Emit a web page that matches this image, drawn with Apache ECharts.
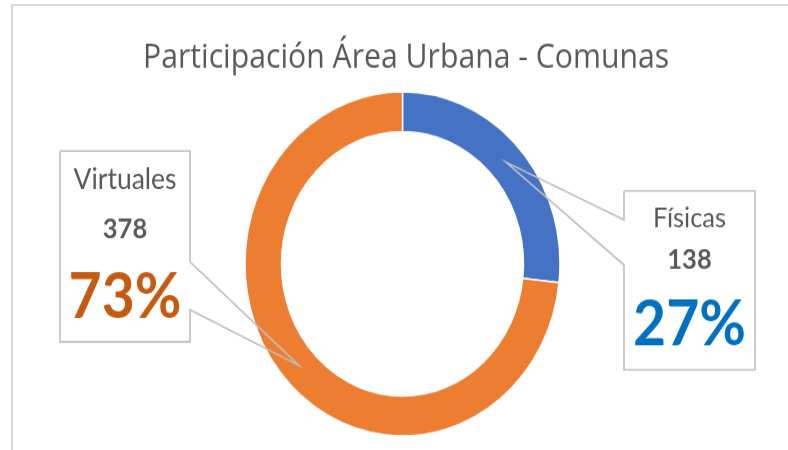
<!DOCTYPE html>
<html><head><meta charset="utf-8">
<script src="https://cdn.jsdelivr.net/npm/echarts@6/dist/echarts.min.js"></script>
<style>
html,body{margin:0;padding:0;width:788px;height:450px;overflow:hidden;background:#fff;}
#frame{position:absolute;left:11px;top:4px;width:800px;height:460px;border-left:2px solid #d9d9d9;border-top:2px solid #d9d9d9;}
#wrap{position:absolute;left:0;top:0;width:788px;height:412px;transform:scaleY(1.0925);transform-origin:0 0;}
#chart{width:788px;height:412px;}
</style></head><body>
<div id="frame"></div>
<div id="wrap"><div id="chart"></div></div>
<script>
// ---- data ----
const titleText = 'Participación Área Urbana - Comunas';
const categories = ['Físicas', 'Virtuales'];
const values = [138, 378];
const sliceColors = ['#4472C4', '#ED7D31'];
const percentColors = ['#0070C0', '#C55A11'];

// ---- layout (callout boxes, in chart px) ----
const boxes = [
  { cx: 689.5, top: 180, nameSize: 25.5, lh: [40, 35, 86], rect: [624, 174.7, 755, 338.5], side: 'left', attach: [201.3, 242.5] },
  { cx: 125, top: 144.4, nameSize: 26.5, lh: [40, 51.4, 73.2], rect: [60, 138.2, 190, 312.9], side: 'right', attach: [239.7, 283.6] }
];
const FONT = 'Lato, "Open Sans", sans-serif';
const TITLE_FONT = '"Open Sans", Lato, sans-serif';

const chart = echarts.init(document.getElementById('chart'), null, { renderer: 'canvas' });

const seriesData = categories.map((name, i) => ({
  name: name,
  value: values[i],
  itemStyle: { color: sliceColors[i] },
  label: {
    rich: {
      n: { fontFamily: FONT, fontSize: boxes[i].nameSize, color: '#595959', lineHeight: boxes[i].lh[0], align: 'center' },
      v: { fontFamily: FONT, fontSize: 25.5, fontWeight: 'bold', color: '#595959', lineHeight: boxes[i].lh[1], align: 'center' },
      p: { fontFamily: FONT, fontSize: 57, fontWeight: 'bold', color: percentColors[i], lineHeight: boxes[i].lh[2], align: 'center' }
    }
  }
}));

chart.setOption({
  animation: false,
  title: {
    text: titleText,
    left: 143,
    top: 38,
    padding: 0,
    textStyle: { fontFamily: TITLE_FONT, fontSize: 30.2, fontWeight: 'normal', color: '#595959' }
  },
  series: [{
    type: 'pie',
    center: [402.5, 241.5],
    radius: [121, 157.5],
    startAngle: 90,
    clockwise: true,
    avoidLabelOverlap: false,
    percentPrecision: 0,
    itemStyle: { borderColor: '#ffffff', borderWidth: 1.5 },
    label: {
      show: true,
      position: 'outside',
      formatter: p => '{n|' + p.name + '}\n{v|' + p.value + '}\n{p|' + p.percent + '%}'
    },
    labelLine: { show: false },
    labelLayout: p => ({ x: boxes[p.dataIndex].cx, y: boxes[p.dataIndex].top, align: 'center', verticalAlign: 'top' }),
    data: seriesData
  }]
});

// ---- callout outlines, with the pointer tip taken from the pie's own layout ----
function tipFor(i) {
  try {
    const data = chart.getModel().getSeriesByIndex(0).getData();
    const L = data.getItemLayout(i);
    const mid = (L.startAngle + L.endAngle) / 2;
    const rm = (L.r + L.r0) / 2;
    return [L.cx + rm * Math.cos(mid), L.cy + rm * Math.sin(mid)];
  } catch (e) {
    const total = values.reduce((a, b) => a + b, 0);
    let acc = 0;
    for (let k = 0; k < i; k++) acc += values[k];
    const mid = -Math.PI / 2 + (acc + values[i] / 2) / total * 2 * Math.PI;
    const rm = (121 + 157.5) / 2;
    return [402.5 + rm * Math.cos(mid), 241.5 + rm * Math.sin(mid)];
  }
}
const graphics = boxes.map((b, i) => {
  const [x0, y0, x1, y1] = b.rect;
  const t = tipFor(i);
  let pts;
  if (b.side === 'left') {
    pts = [[x0, y0], [x1, y0], [x1, y1], [x0, y1], [x0, b.attach[1]], t, [x0, b.attach[0]], [x0, y0]];
  } else {
    pts = [[x0, y0], [x1, y0], [x1, b.attach[0]], t, [x1, b.attach[1]], [x1, y1], [x0, y1], [x0, y0]];
  }
  return { type: 'polyline', z: 100, shape: { points: pts }, style: { stroke: '#BFBFBF', lineWidth: 1.6, fill: null } };
});
chart.setOption({ graphic: graphics });
</script>
</body></html>
